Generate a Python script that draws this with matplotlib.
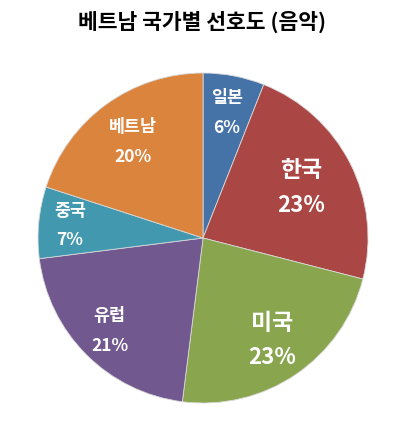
import numpy as np
import matplotlib
matplotlib.use("Agg")
import matplotlib.pyplot as plt

plt.rcParams["font.family"] = ["Noto Sans CJK KR", "DejaVu Sans"]

# --- data ---
title = "베트남 국가별 선호도 (음악)"
countries = ["일본", "한국", "미국", "유럽", "중국", "베트남"]
shares = [6, 23, 23, 21, 7, 20]
colors = ["#4572A7", "#AA4643", "#89A54E", "#71588F", "#4198AF", "#DB843D"]

# label styling per slice (radius fraction, font size)
label_r = [0.77, 0.67, 0.75, 0.80, 0.81, 0.72]
label_size = [12.5, 16.5, 16.5, 12.5, 12.5, 12.5]
pct_size = [12.5, 16, 16, 12.5, 12.5, 12.5]

fig = plt.figure(figsize=(4.05, 4.22), dpi=100)
fig.text(0.5, 0.948, title, ha="center", va="center", fontsize=15.5,
         fontweight="bold", color="black")

ax = fig.add_axes([0.0938, 0.045, 0.815, 0.782])
wedges, _ = ax.pie(shares, colors=colors, startangle=90, counterclock=False,
                   radius=1.0,
                   wedgeprops=dict(edgecolor="#d8d8d8", linewidth=0.6))

total = float(sum(shares))
for w, name, val, r, fs, ps in zip(wedges, countries, shares, label_r,
                                   label_size, pct_size):
    mid = np.deg2rad((w.theta1 + w.theta2) / 2.0)
    x, y = r * np.cos(mid), r * np.sin(mid)
    gap = 0.09 if fs < 14 else 0.105
    ax.text(x, y + gap, name, ha="center", va="center", fontsize=fs,
            fontweight="bold", color="white")
    ax.text(x, y - gap, f"{val / total * 100:.0f}%", ha="center", va="center",
            fontsize=ps, fontweight="bold", color="white")

ax.set_xlim(-1, 1)
ax.set_ylim(-1, 1)
ax.set_aspect("equal")
ax.axis("off")

fig.savefig("out.png", dpi=100)
